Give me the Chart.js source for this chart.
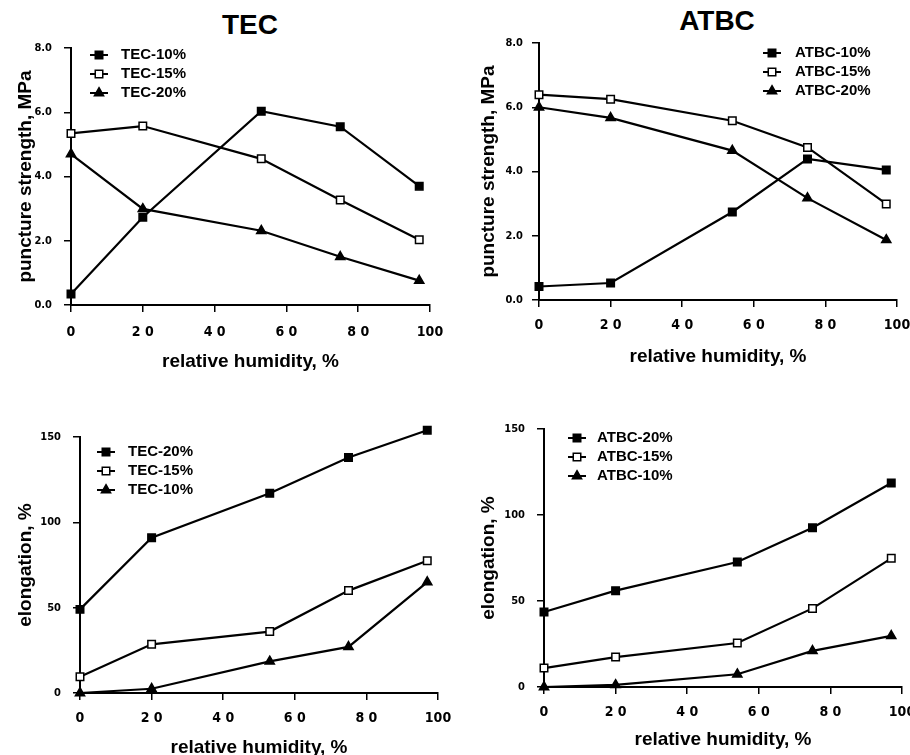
<!DOCTYPE html>
<html>
<head>
<meta charset="utf-8">
<script src="https://cdn.jsdelivr.net/npm/chart.js@4"></script>
<style>
  html, body { margin: 0; padding: 0; background: #fff; }
  body { width: 910px; height: 755px; position: relative; overflow: hidden; }
  .panel { position: absolute; }
  .head { position: absolute; font: bold 28px 'Liberation Sans', Arial, sans-serif; transform: translate(-50%, -50%); color: #000; }
</style>
</head>
<body>
<div class="head" style="left:250px;top:25px">TEC</div>
<div class="head" style="left:717px;top:21px">ATBC</div>
<canvas class="panel" id="tec-punct" width="455" height="380" style="left:0;top:0"></canvas>
<canvas class="panel" id="atbc-punct" width="455" height="380" style="left:455px;top:0"></canvas>
<canvas class="panel" id="tec-elong" width="455" height="390" style="left:0;top:380px"></canvas>
<canvas class="panel" id="atbc-elong" width="455" height="390" style="left:455px;top:380px"></canvas>
<script>
// --- data ---
const rhTEC = [0, 20, 53, 75, 97];
const rhATBC = [0, 20, 54, 75, 97];

const tecPunct10 = [0.34, 2.73, 6.03, 5.55, 3.70];
const tecPunct15 = [5.34, 5.57, 4.55, 3.27, 2.03];
const tecPunct20 = [4.70, 2.99, 2.31, 1.50, 0.76];

const atbcPunct10 = [0.42, 0.53, 2.74, 4.39, 4.05];
const atbcPunct15 = [6.39, 6.25, 5.58, 4.75, 2.99];
const atbcPunct20 = [6.00, 5.67, 4.65, 3.17, 1.87];

const tecElong20 = [49, 91, 117, 138, 154];
const tecElong15 = [9.5, 28.5, 36, 60, 77.5];
const tecElong10 = [0, 2.5, 18.5, 27, 65];

const atbcElong20 = [43.6, 56, 72.7, 92.6, 118.6];
const atbcElong15 = [11, 17.4, 25.6, 45.7, 74.8];
const atbcElong10 = [0, 1.2, 7.4, 21, 29.7];

const rhTicks = [0, 20, 40, 60, 80, 100];
const punctTicks = [0, 2, 4, 6, 8];
const elongTicks = [0, 50, 100, 150];

// --- style ---
const SANS = "'Liberation Sans', Arial, sans-serif";
const NARROW = "'Liberation Sans Narrow', 'DejaVu Sans Condensed', 'Liberation Sans', sans-serif";
Chart.defaults.font.family = SANS;
Chart.defaults.color = '#000';

// marker per legend row: filled square, open square, filled triangle
const markers = [
  { pointStyle: 'rect', pointBackgroundColor: '#000' },
  { pointStyle: 'rect', pointBackgroundColor: '#fff' },
  { pointStyle: 'triangle', pointBackgroundColor: '#000' }
];

function series(label, xs, ys, i) {
  return {
    label,
    data: xs.map((x, k) => ({ x, y: ys[k] })),
    borderColor: '#000',
    borderWidth: 2.2,
    pointBorderColor: '#000',
    pointBorderWidth: 1.5,
    pointRadius: 5.3,
    clip: false,
    ...markers[i]
  };
}

// legend: short line with the marker on it, then the label
const lineLegend = {
  id: 'lineLegend',
  afterDraw(chart, args, opts) {
    const ctx = chart.ctx;
    ctx.save();
    ctx.font = 'bold 15px ' + SANS;
    ctx.textBaseline = 'middle';
    chart.data.datasets.forEach((ds, i) => {
      const y = opts.y + i * opts.gap;
      ctx.strokeStyle = '#000';
      ctx.lineWidth = 2;
      ctx.beginPath();
      ctx.moveTo(opts.x - 9, y);
      ctx.lineTo(opts.x + 9, y);
      ctx.stroke();
      ctx.fillStyle = ds.pointBackgroundColor;
      ctx.lineWidth = ds.pointBorderWidth;
      Chart.helpers.drawPoint(ctx, { pointStyle: ds.pointStyle, radius: ds.pointRadius, borderWidth: ds.pointBorderWidth, rotation: 0 }, opts.x, y);
      ctx.fillStyle = '#000';
      ctx.fillText(ds.label, opts.textX, y);
    });
    ctx.restore();
  }
};

// markers a little past the axis ends (e.g. 154 % on a 0-150 axis) still get drawn
const roomForMarkers = {
  id: 'roomForMarkers',
  beforeDatasetsDraw(chart) {
    const a = chart.chartArea;
    chart.$savedArea = { left: a.left, right: a.right, top: a.top, bottom: a.bottom };
    a.left -= 12; a.right += 12; a.top -= 12; a.bottom += 12;
  },
  afterDatasetsDraw(chart) {
    Object.assign(chart.chartArea, chart.$savedArea);
  }
};

function makeChart(id, g, datasets, yTicks, yFmt, yTitle) {
  new Chart(document.getElementById(id), {
    type: 'line',
    data: { datasets },
    plugins: [roomForMarkers, lineLegend],
    options: {
      responsive: false,
      animation: false,
      layout: { padding: { top: g.top, right: g.right, left: 0, bottom: 0 } },
      plugins: {
        legend: { display: false },
        tooltip: { enabled: false },
        lineLegend: g.legend
      },
      scales: {
        x: {
          type: 'linear',
          min: 0,
          max: 100,
          afterBuildTicks: s => { s.ticks = rhTicks.map(v => ({ value: v })); },
          afterFit: s => { s.height = g.xHeight; s.paddingLeft = 0; s.paddingRight = 0; },
          border: { display: true, color: '#000', width: 2 },
          grid: { drawOnChartArea: false, drawTicks: true, tickLength: 7, color: '#000', lineWidth: 1.5 },
          ticks: {
            padding: g.xTickPad,
            maxRotation: 0,
            font: { family: NARROW, weight: 'bold', size: 14 },
            callback: v => v < 100 ? String(v).split('').join(' ') : String(v)
          },
          title: {
            display: true,
            text: 'relative humidity, %',
            font: { weight: 'bold', size: 19 },
            padding: { top: 0, bottom: g.xTitlePad }
          }
        },
        y: {
          type: 'linear',
          min: yTicks[0],
          max: yTicks[yTicks.length - 1],
          afterBuildTicks: s => { s.ticks = yTicks.map(v => ({ value: v })); },
          afterFit: s => { s.width = g.yWidth; s.paddingTop = 0; s.paddingBottom = 0; },
          border: { display: true, color: '#000', width: 2 },
          grid: { drawOnChartArea: false, drawTicks: true, tickLength: 7, color: '#000', lineWidth: 1.5 },
          ticks: {
            padding: g.yTickPad,
            font: { family: NARROW, weight: 'bold', size: 11 },
            callback: yFmt
          },
          title: {
            display: true,
            text: yTitle,
            font: { weight: 'bold', size: 19 },
            padding: { top: g.yTitlePad, bottom: 0 }
          }
        }
      }
    }
  });
}

const fmtMPa = v => v.toFixed(1);
const fmtPct = v => String(v);

makeChart('tec-punct',
  { top: 48, right: 25, yWidth: 71, xHeight: 75, xTickPad: 12, yTickPad: 12, yTitlePad: 14, xTitlePad: 7,
    legend: { x: 99, textX: 121, y: 55, gap: 19 } },
  [series('TEC-10%', rhTEC, tecPunct10, 0),
   series('TEC-15%', rhTEC, tecPunct15, 1),
   series('TEC-20%', rhTEC, tecPunct20, 2)],
  punctTicks, fmtMPa, 'puncture strength, MPa');

makeChart('atbc-punct',
  { top: 43, right: 13, yWidth: 84, xHeight: 80, xTickPad: 10, yTickPad: 9, yTitlePad: 22, xTitlePad: 12,
    legend: { x: 317, textX: 340, y: 53, gap: 19 } },
  [series('ATBC-10%', rhATBC, atbcPunct10, 0),
   series('ATBC-15%', rhATBC, atbcPunct15, 1),
   series('ATBC-20%', rhATBC, atbcPunct20, 2)],
  punctTicks, fmtMPa, 'puncture strength, MPa');

makeChart('tec-elong',
  { top: 57, right: 17, yWidth: 80, xHeight: 77, xTickPad: 10, yTickPad: 12, yTitlePad: 14, xTitlePad: 11,
    legend: { x: 106, textX: 128, y: 72, gap: 19 } },
  [series('TEC-20%', rhTEC, tecElong20, 0),
   series('TEC-15%', rhTEC, tecElong15, 1),
   series('TEC-10%', rhTEC, tecElong10, 2)],
  elongTicks, fmtPct, 'elongation, %');

makeChart('atbc-elong',
  { top: 49, right: 8, yWidth: 89, xHeight: 83, xTickPad: 10, yTickPad: 12, yTitlePad: 22, xTitlePad: 19,
    legend: { x: 122, textX: 142, y: 58, gap: 19 } },
  [series('ATBC-20%', rhATBC, atbcElong20, 0),
   series('ATBC-15%', rhATBC, atbcElong15, 1),
   series('ATBC-10%', rhATBC, atbcElong10, 2)],
  elongTicks, fmtPct, 'elongation, %');
</script>
</body>
</html>
